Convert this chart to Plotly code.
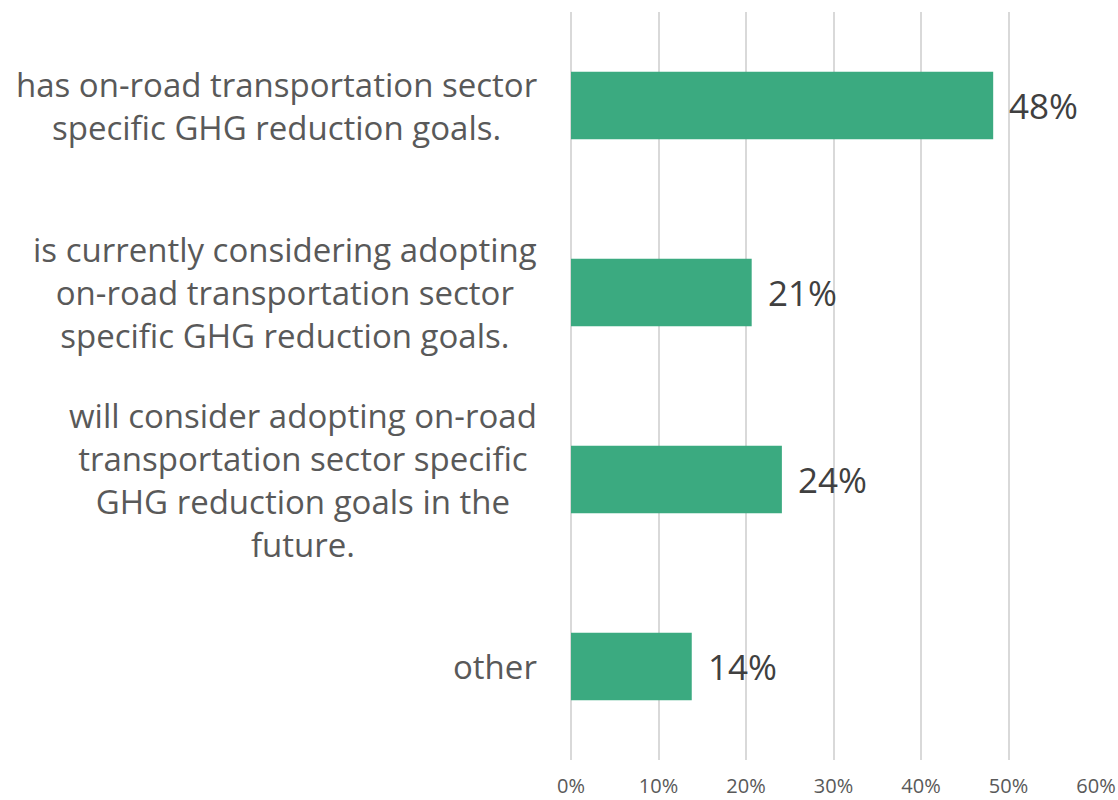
import plotly.graph_objects as go

categories = [
    "has on-road transportation sector<br>specific GHG reduction goals.",
    "is currently considering adopting<br>on-road transportation sector<br>specific GHG reduction goals.",
    "will consider adopting on-road<br>transportation sector specific<br>GHG reduction goals in the<br>future.",
    "other",
]
values = [0.4825, 0.2065, 0.241, 0.138]
tick_vals = [0, 0.1, 0.2, 0.3, 0.4, 0.5, 0.6]
tick_text = ["0%", "10%", "20%", "30%", "40%", "50%", "60%"]

FONT = "Open Sans"
BAR_COLOR = "#3BAA80"

fig = go.Figure(
    go.Bar(
        x=values,
        y=categories,
        orientation="h",
        marker=dict(color=BAR_COLOR, line=dict(width=0)),
        hoverinfo="skip",
    )
)

annotations = []
for cat, v in zip(categories, values):
    annotations.append(dict(
        x=0, xref="paper", y=cat, yref="y",
        text=cat, showarrow=False, xanchor="right", yanchor="middle",
        align="center", xshift=-32,
        font=dict(family=FONT, size=33, color="#595959"),
    ))
    annotations.append(dict(
        x=v, xref="x", y=cat, yref="y",
        text=f"{v:.0%}", showarrow=False, xanchor="left", yanchor="middle",
        xshift=14,
        font=dict(family=FONT, size=35, color="#404040"),
    ))

fig.update_layout(
    width=1118, height=800,
    margin=dict(l=571, r=22, t=12, b=40, pad=0, autoexpand=False),
    paper_bgcolor="white", plot_bgcolor="white",
    bargap=0.64,
    showlegend=False,
    annotations=annotations,
    font=dict(family=FONT),
    xaxis=dict(
        range=[0, 0.6],
        tickvals=tick_vals, ticktext=tick_text,
        showgrid=True, gridcolor="#D9D9D9", gridwidth=1.5,
        zeroline=True, zerolinecolor="#D9D9D9", zerolinewidth=1.5,
        showline=False, automargin=False,
        tickfont=dict(family=FONT, size=20, color="#595959"),
        ticks="", ticklabelstandoff=12,
        layer="below traces",
    ),
    yaxis=dict(
        autorange="reversed", automargin=False,
        showticklabels=False, showgrid=False, zeroline=False, showline=False,
        ticks="",
    ),
)

fig.write_html(
    "out.html",
    config={"displayModeBar": False},
    post_script="document.body.style.margin='0';document.body.style.overflow='hidden';",
)
